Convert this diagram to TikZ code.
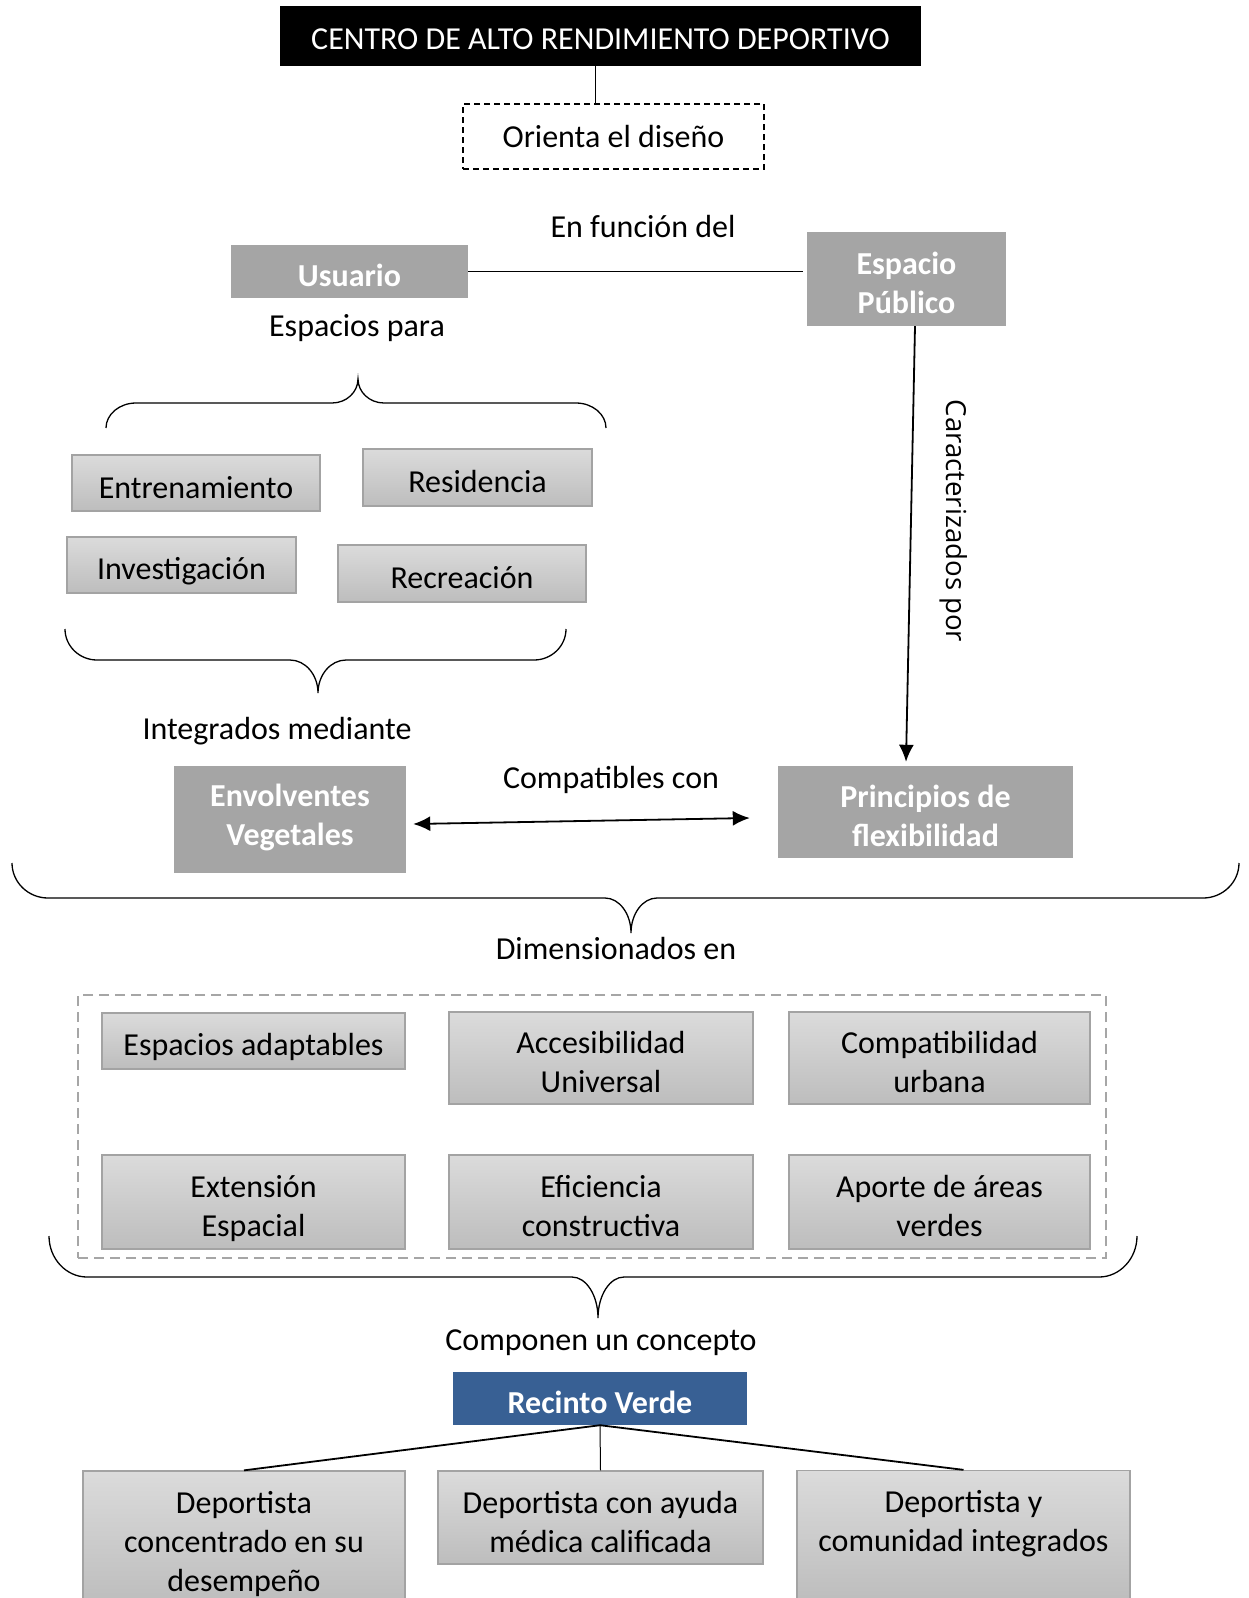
\documentclass[tikz,border=0pt]{standalone}
\usepackage{fontspec}
\setmainfont{Carlito}
\newfontfamily\sidefont{Open Sans}
\usetikzlibrary{arrows.meta}

\definecolor{graybox}{HTML}{A5A5A5}
\definecolor{boxtop}{HTML}{DBDBDB}
\definecolor{boxbot}{HTML}{BDBDBD}
\definecolor{boxline}{HTML}{A3A3A3}
\definecolor{recinto}{HTML}{386094}
\definecolor{dashgray}{HTML}{A6A6A6}

% line strut with the ascent and descent used for box text
\newcommand{\lnstrut}{\rule[-4.5pt]{0pt}{39pt}}

% curly brace: xl, xr, y of ends, y of flat part, x of tip, y of tip, end radius, tip radius
\newcommand{\bracepath}[8]{%
  \draw[bracestyle] (#1,#3) .. controls (#1,{#3+0.55*(#4-#3)}) and ({#1+0.45*#7},#4) .. ({#1+#7},#4)
    -- ({#5-#8},#4) .. controls ({#5-0.45*#8},#4) and (#5,{#4+0.45*(#6-#4)}) .. (#5,#6)
    .. controls (#5,{#4+0.45*(#6-#4)}) and ({#5+0.45*#8},#4) .. ({#5+#8},#4)
    -- ({#2-#7},#4) .. controls ({#2-0.45*#7},#4) and (#2,{#3+0.55*(#4-#3)}) .. (#2,#3);}

\tikzset{
  base/.style={inner sep=0pt, align=center, font=\fontsize{32}{39}\selectfont},
  label/.style={base},
  boxtext/.style={execute at end node=\lnstrut},
  darkbox/.style={base, boxtext, fill=graybox, text=white, font=\fontsize{32}{39}\selectfont\bfseries},
  lightbox/.style={base, boxtext, top color=boxtop, bottom color=boxbot, draw=boxline, line width=1.3pt},
  bracestyle/.style={line width=1.3pt},
  link/.style={line width=1.8pt},
  thinlink/.style={line width=1pt},
  bigtip/.style={-{Latex[length=17pt,width=15pt]}},
}

\begin{document}
\begin{tikzpicture}[x=1pt,y=-1pt]
\useasboundingbox (0,0) rectangle (1248,1598);
\clip (0,0) rectangle (1248,1598);
\fill[white] (0,0) rectangle (1248,1598);

% header
\node[base, fill=black, text=white, minimum width=641, minimum height=60] (title) at (600.5,36)
  {CENTRO DE ALTO RENDIMIENTO DEPORTIVO\rule[-6.5pt]{0pt}{39pt}};
\node[base, draw, dashed, dash pattern=on 6pt off 4pt, line width=1.5pt,
      minimum width=301, minimum height=65] (orienta) at (613.5,136.5) {Orienta el diseño};
\draw[thinlink] ([xshift=-5.5]title.south) -- ([xshift=-18.5]orienta.north);

% user and public space
\node[label] (enfuncion) at (643,227) {En función del};
\node[darkbox, minimum width=237, minimum height=53] (usuario) at (349.5,271.5) {Usuario};
\node[darkbox, minimum width=199, minimum height=94] (espacio) at (906.5,279) {\lnstrut Espacio\\Público};
\draw[link, shorten >=4pt] (usuario.east) -- ([yshift=7.5]espacio.west);
\node[label] (espaciospara) at (357,328) {Espacios para};

% spaces for the user
\bracepath{106}{606}{428}{403}{358}{379}{30}{26}
\node[lightbox, minimum width=248, minimum height=56] (entren) at (196,483) {Entrenamiento};
\node[lightbox, minimum width=229, minimum height=57] (resid) at (477.5,477.5) {Residencia};
\node[lightbox, minimum width=229, minimum height=56] (invest) at (181.5,565) {Investigación};
\node[lightbox, minimum width=248, minimum height=57] (recrea) at (462,573.5) {Recreación};
\bracepath{65}{566}{629}{660}{318}{693}{32}{28}
\node[label] (integrados) at (277,731) {Integrados mediante};

% vegetation and flexibility
\node[darkbox, minimum width=232, minimum height=107] (envol) at (290,819.5)
  {\lnstrut Envolventes\\Vegetales\rule[-21.5pt]{0pt}{0pt}};
\node[darkbox, minimum width=295, minimum height=92] (princ) at (925.5,812) {\lnstrut Principios de\\flexibilidad};
\node[label] (compatibles) at (611,780) {Compatibles con};
\draw[link, bigtip] ([xshift=8.5]espacio.south) -- ([xshift=-19.5,yshift=4]princ.north);
\node[inner sep=0pt, rotate=-90, font=\sidefont\fontsize{27.6}{33}\selectfont] (caract) at (954,521)
  {Caracterizados por};
\draw[link, {Latex[length=17pt,width=15pt]}-{Latex[length=17pt,width=15pt]}]
  ([xshift=7,yshift=-4.5]envol.east) -- ([xshift=-28,yshift=-6]princ.west);

\bracepath{12}{1239}{863}{898}{631}{933}{36}{26}
\node[label] (dimens) at (616,948) {Dimensionados en};

% dimensions
\node[draw=dashgray, dashed, dash pattern=on 10pt off 6pt, line width=2pt, inner sep=0pt,
      minimum width=1028, minimum height=263] (dims) at (592,1126.5) {};
\node[lightbox, minimum width=303, minimum height=56] (adapt) at (253.5,1041) {Espacios adaptables};
\node[lightbox, minimum width=304, minimum height=92] (acces) at (601,1058) {\lnstrut Accesibilidad\\Universal};
\node[lightbox, minimum width=301, minimum height=92] (compat) at (939.5,1058) {\lnstrut Compatibilidad\\urbana};
\node[lightbox, minimum width=303, minimum height=94] (exten) at (253.5,1202) {\lnstrut Extensión\\Espacial};
\node[lightbox, minimum width=304, minimum height=94] (efic) at (601,1202) {\lnstrut Eficiencia\\constructiva};
\node[lightbox, minimum width=301, minimum height=94] (aporte) at (939.5,1202) {\lnstrut Aporte de áreas\\verdes};

\bracepath{49}{1137}{1236}{1277}{598}{1318}{38}{26}
\node[label] (componen) at (601,1343) {Componen un concepto};

% green enclosure concept
\node[darkbox, fill=recinto, minimum width=294, minimum height=53] (rv) at (600,1398.5) {Recinto Verde};
\node[lightbox, minimum width=322, minimum height=133] (dep1) at (244,1537.5)
  {\lnstrut Deportista\\concentrado en su\\desempeño};
\node[lightbox, minimum width=325, minimum height=93] (dep2) at (600.5,1517.5)
  {\lnstrut Deportista con ayuda\\médica calificada};
\node[lightbox, minimum width=333, minimum height=131] (dep3) at (963.5,1536)
  {\lnstrut Deportista y\\comunidad integrados\\};
\draw[link] (rv.south) -- (dep1.north);
\draw[thinlink] (rv.south) -- (dep2.north);
\draw[link] (rv.south) -- (dep3.north);
\end{tikzpicture}
\end{document}
